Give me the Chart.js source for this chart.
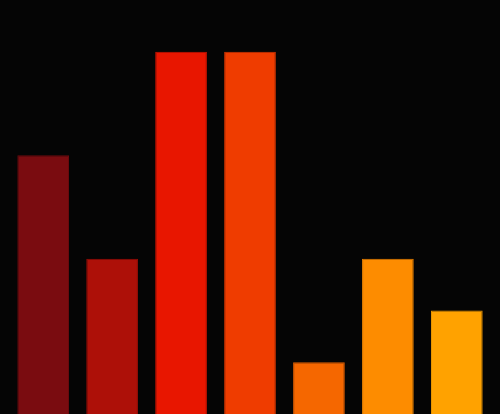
<!DOCTYPE html>
<html lang="en">
<head>
	<meta charset="utf-8">
	<title>Bars</title>
	<script src="https://cdn.jsdelivr.net/npm/chart.js"></script>
	<style>
		html, body { margin: 0; padding: 0; background: #050505; }
		#wrap { width: 500px; height: 414px; }
	</style>
</head>
<body>
<div id="wrap"><canvas id="bars"></canvas></div>
<script>
const categories = ["A", "B", "C", "D", "E", "F", "G"];
const values = [5, 3, 7, 7, 1, 3, 2];
const fills = ["#7a0c10", "#ad1008", "#e81600", "#ef3c00", "#f56700", "#fd8c00", "#ffa200"];
const edges = ["#6a0a0d", "#9a0d06", "#d01300", "#d83500", "#dc5c00", "#e47e00", "#e69200"];

new Chart(document.getElementById("bars"), {
	type: "bar",
	data: {
		labels: categories,
		datasets: [{
			data: values,
			backgroundColor: fills,
			borderColor: edges,
			borderWidth: 1
		}]
	},
	options: {
		responsive: true,
		maintainAspectRatio: false,
		animation: false,
		layout: { padding: { left: 8.7, right: 8.7, top: 0, bottom: 0 } },
		plugins: { legend: { display: false }, tooltip: { enabled: false } },
		datasets: { bar: { categoryPercentage: 1, barPercentage: 0.75 } },
		scales: {
			x: { display: false },
			y: { display: false, min: 0, max: 8 }
		}
	}
});
</script>
</body>
</html>
